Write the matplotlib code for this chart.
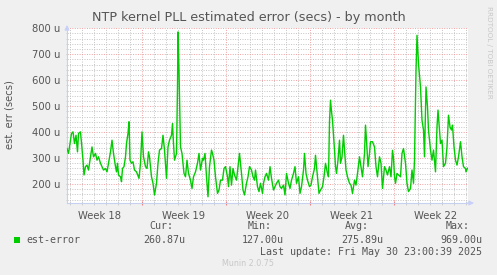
import matplotlib
matplotlib.use('Agg')
import matplotlib.pyplot as plt
import numpy as np

# hours since the left edge of the graph, and est-error in micro seconds
hours = [0, 3, 5, 9, 12, 15, 18, 21, 23, 27, 29, 32, 34, 37, 40, 43, 47, 50, 53, 57,
         60, 63, 67, 70, 73, 77, 80, 83, 87, 90, 93, 97, 99, 101, 103, 107, 109, 111, 114, 117,
         119, 122, 124, 126, 129, 132, 135, 139, 144, 147, 150, 153, 157, 160, 163, 165, 169, 172, 175, 179,
         182, 185, 189, 192, 195, 199, 202, 205, 209, 211, 213, 215, 219, 221, 222, 224, 227, 230, 234, 237,
         240, 243, 247, 250, 253, 257, 261, 264, 267, 271, 273, 276, 279, 282, 285, 289, 291, 294, 297, 301,
         304, 307, 311, 314, 317, 321, 323, 326, 329, 332, 335, 339, 342, 345, 349, 352, 355, 359, 362, 365,
         369, 372, 375, 377, 381, 384, 387, 391, 393, 396, 399, 403, 406, 409, 413, 416, 419, 423, 426, 429,
         433, 436, 439, 443, 446, 449, 453, 456, 459, 463, 466, 469, 473, 475, 478, 481, 485, 488, 491, 495,
         497, 501, 504, 507, 511, 514, 517, 521, 523, 525, 527, 529, 531, 535, 537, 539, 542, 545, 547, 550,
         553, 555, 558, 561, 565, 568, 571, 575, 578, 581, 585, 588, 591, 595, 597, 599, 602, 605, 607, 611,
         615, 618, 621, 625, 628, 631, 635, 638, 641, 645, 648, 651, 653, 655, 657, 660, 663, 667, 670, 673,
         677, 680, 683, 687, 690, 693, 695, 698, 700, 703, 707, 710, 713, 715, 718, 721, 723, 727, 730, 733,
         737, 740, 742, 745, 747, 750, 753, 757, 760, 763, 766, 769, 771, 774, 777, 780, 783, 787, 790, 793,
         797, 798, 801]
err = [337, 318, 343, 395, 401, 356, 388, 324, 395, 401, 356, 292, 235, 267, 273, 254, 305, 343, 305, 318,
       292, 305, 280, 267, 254, 260, 247, 280, 324, 369, 318, 267, 247, 280, 235, 228, 209, 260, 267, 305,
       356, 395, 440, 292, 280, 286, 254, 247, 222, 280, 401, 305, 267, 260, 324, 305, 228, 203, 158, 203,
       280, 331, 337, 388, 331, 222, 343, 369, 388, 433, 356, 292, 318, 574, 786, 638, 343, 318, 241, 228,
       292, 241, 215, 183, 228, 247, 280, 318, 254, 299, 292, 318, 228, 151, 267, 331, 318, 292, 228, 164,
       177, 215, 215, 260, 267, 228, 190, 267, 196, 260, 235, 215, 267, 318, 241, 177, 158, 203, 228, 267,
       254, 228, 215, 254, 190, 171, 203, 164, 203, 228, 241, 215, 267, 222, 177, 190, 203, 215, 190, 183,
       196, 158, 241, 203, 183, 215, 241, 267, 203, 228, 164, 190, 254, 318, 241, 215, 190, 196, 228, 260,
       311, 228, 164, 177, 190, 228, 280, 240, 228, 440, 523, 480, 446, 331, 267, 241, 292, 369, 280, 305,
       388, 331, 254, 228, 203, 196, 164, 215, 196, 241, 305, 267, 228, 318, 427, 369, 267, 318, 363, 363,
       343, 267, 228, 305, 280, 183, 267, 254, 235, 267, 228, 330, 300, 230, 203, 241, 235, 228, 318, 337,
       280, 203, 171, 183, 254, 203, 292, 638, 773, 664, 574, 446, 408, 305, 574, 497, 408, 331, 292, 331,
       247, 420, 485, 408, 356, 369, 267, 280, 343, 465, 420, 408, 427, 343, 292, 273, 305, 363, 305, 267,
       260, 247, 261]

week_start = [150, 318, 486, 654]
week_names = ['Week 18', 'Week 19', 'Week 20', 'Week 21', 'Week 22']
week_mid = [66, 234, 402, 570, 738]

legend_name = 'est-error'
stat_heads = ['Cur:', 'Min:', 'Avg:', 'Max:']
stat_vals = ['260.87u', '127.00u', '275.89u', '969.00u']

W, H = 497, 275
fig = plt.figure(figsize=(W / 100, H / 100), dpi=100, facecolor='#F0F0F0')
ax = fig.add_axes([67 / W, 1 - 203 / H, 401 / W, (203 - 28.3) / H])
ax.set_facecolor('white')

ax.plot(hours, err, color='#00CC00', lw=1.0, zorder=3)

ax.set_xlim(0, 802)
ax.set_ylim(127, 800)

# grid
ax.set_yticks(range(200, 801, 100))
ax.set_yticks(range(140, 800, 20), minor=True)
ax.set_xticks(week_start)
ax.set_xticks([h for h in range(6, 802, 24) if h not in week_start], minor=True)
ax.grid(which='minor', color='#c4c4c4', ls=(0, (1, 1.5)), lw=0.7)
ax.grid(which='major', color='#f0a0a0', ls=(0, (1, 1.5)), lw=0.7)
ax.set_axisbelow(True)

ax.set_yticklabels(['%d u' % v for v in range(200, 801, 100)])
ax.set_xticklabels([])
ax.tick_params(axis='y', which='both', length=2, direction='inout', color='#c8c8c8',
               labelsize=7.2, labelcolor='#555555', pad=4)
ax.tick_params(axis='x', which='minor', length=3, direction='inout', color='#c8c8c8')
ax.tick_params(axis='x', which='major', length=3, direction='inout', color='#f08080')

for s in ['top', 'right']:
    ax.spines[s].set_visible(False)
for s in ['left', 'bottom']:
    ax.spines[s].set_color('#c8d0f0')
    ax.spines[s].set_linewidth(0.8)

# arrows at the axis ends
ax.annotate('', xy=(0, 1.035), xytext=(0, 0.98), xycoords='axes fraction',
            arrowprops=dict(arrowstyle='-|>', color='#c8d0f8', lw=0.8, mutation_scale=7))
ax.annotate('', xy=(1.022, 0), xytext=(0.99, 0), xycoords='axes fraction',
            arrowprops=dict(arrowstyle='-|>', color='#c8d0f8', lw=0.8, mutation_scale=7))

for m, name in zip(week_mid, week_names):
    ax.text(m, -0.045, name, transform=ax.get_xaxis_transform(), ha='center', va='top',
            fontsize=7.2, color='#555555')

fig.text(249 / W, 1 - 18 / H, 'NTP kernel PLL estimated error (secs) - by month',
         ha='center', va='center', fontsize=9.2, color='#555555')
fig.text(10 / W, 1 - 115 / H, 'est. err (secs)', rotation=90, ha='center', va='center',
         fontsize=7.2, color='#555555')
fig.text(489 / W, 1 - 6 / H, 'RRDTOOL / TOBI OETIKER', rotation=270, ha='center', va='top',
         fontsize=5.2, color='#c8c8c8')

mono = 'DejaVu Sans Mono'
head_x = [161, 260, 357, 458]
val_right = [185, 284, 383, 482]
for hx, t in zip(head_x, stat_heads):
    fig.text(hx / W, 1 - 226 / H, t, ha='center', va='center', family=mono,
             fontsize=7.2, color='#555555')
for vx, t in zip(val_right, stat_vals):
    fig.text(vx / W, 1 - 240 / H, t, ha='right', va='center', family=mono,
             fontsize=7.2, color='#555555')
fig.patches.append(plt.Rectangle((14 / W, 1 - 243 / H), 6 / W, 6 / H, transform=fig.transFigure,
                                 facecolor='#00CC00', edgecolor='none'))
fig.text(26 / W, 1 - 240 / H, legend_name, ha='left', va='center', family=mono,
         fontsize=7.2, color='#555555')
fig.text(482 / W, 1 - 252 / H, 'Last update: Fri May 30 23:00:39 2025', ha='right', va='center',
         family=mono, fontsize=7.2, color='#555555')
fig.text(248 / W, 1 - 264 / H, 'Munin 2.0.75', ha='center', va='center',
         fontsize=5.8, color='#c8c8c8')

fig.savefig('out.png', dpi=100, facecolor=fig.get_facecolor())
